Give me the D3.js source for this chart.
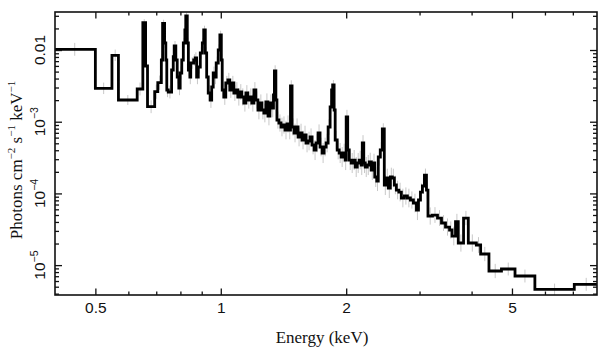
<!DOCTYPE html>
<html><head><meta charset="utf-8">
<script src="https://cdn.jsdelivr.net/npm/d3@7"></script>
<style>body{margin:0;background:#fff}svg{display:block}</style>
</head><body><svg id="c" width="609" height="357"></svg>
<script>
// Bin edges (keV), 174 edges -> 173 bins
const edges = [
0.398,0.500,0.548,0.568,0.630,0.650,0.660,0.667,0.694,0.706,
0.720,0.725,0.733,0.738,0.742,0.748,0.762,0.769,0.773,0.780,
0.786,0.793,0.799,0.806,0.813,0.820,0.824,0.831,0.836,0.843,
0.847,0.861,0.868,0.875,0.883,0.893,0.903,0.910,0.918,0.925,
0.933,0.943,0.951,0.959,0.967,0.975,0.986,0.995,1.003,1.008,
1.017,1.028,1.040,1.051,1.063,1.075,1.087,1.099,1.111,1.123,
1.136,1.149,1.161,1.174,1.187,1.201,1.214,1.228,1.241,1.255,
1.269,1.283,1.298,1.312,1.327,1.338,1.345,1.356,1.364,1.379,
1.395,1.410,1.426,1.442,1.458,1.470,1.483,1.499,1.516,1.533,
1.550,1.567,1.584,1.602,1.620,1.638,1.656,1.675,1.693,1.712,
1.731,1.751,1.770,1.790,1.810,1.830,1.845,1.856,1.871,1.882,
1.903,1.924,1.945,1.967,1.989,2.000,2.017,2.034,2.056,2.079,
2.102,2.126,2.149,2.173,2.186,2.204,2.222,2.247,2.272,2.297,
2.323,2.342,2.368,2.388,2.415,2.442,2.469,2.497,2.524,2.553,
2.581,2.610,2.639,2.676,2.713,2.759,2.805,2.852,2.900,2.949,
2.982,3.015,3.048,3.082,3.117,3.143,3.222,3.313,3.387,3.463,
3.541,3.590,3.660,3.716,3.826,3.928,4.106,4.205,4.403,4.718,
5.085,5.675,7.056,8.05
];
// Flux (photons cm^-2 s^-1 keV^-1), one per bin
const flux = [
0.01023,0.002922,0.008435,0.002008,0.002858,0.02403,0.005983,0.001619,0.002620,0.003499,
0.007255,0.02357,0.01252,0.007255,0.002768,0.002596,0.005261,0.008063,0.01137,0.007255,
0.004201,0.002951,0.004777,0.007255,0.01252,0.01901,0.02980,0.01252,0.005261,0.004201,
0.006589,0.007255,0.007733,0.004201,0.005793,0.009082,0.01252,0.01901,0.009082,0.004201,
0.002513,0.002008,0.003048,0.004777,0.004201,0.006589,0.0100,0.01619,0.007255,0.002768,
0.002211,0.003465,0.003816,0.002768,0.003465,0.002513,0.002768,0.002211,0.002596,0.002211,
0.001824,0.002513,0.002008,0.002211,0.001824,0.002768,0.002008,0.001456,0.001824,0.001456,
0.001322,0.001883,0.001201,0.001824,0.001553,0.002358,0.005094,0.002008,0.001056,0.0009591,
0.0008435,0.0008995,0.0007661,0.0009288,0.0007661,0.003148,0.0008435,0.0006958,0.0008435,0.0006118,
0.0006958,0.0005557,0.0006524,0.0005046,0.0005381,0.0006118,0.0004732,0.0004029,0.0005046,0.0006958,
0.0004437,0.0003660,0.0004437,0.0005046,0.0008435,0.001603,0.002768,0.003250,0.001456,0.0005557,
0.0004029,0.0003660,0.0003218,0.0003660,0.0002922,0.001163,0.0004029,0.0002922,0.0002654,0.0002922,
0.0002334,0.0002654,0.0002922,0.0002489,0.0005046,0.0002654,0.0002334,0.0002489,0.0002741,0.0002120,
0.0002654,0.0001694,0.0001489,0.0003218,0.0004029,0.0007912,0.0001310,0.0001640,0.0001190,0.0001694,
0.0001640,0.0001310,0.0001115,0.0001045,0.00008627,0.00009199,0.00008627,0.00008091,0.00007347,0.00005869,
0.00008091,0.0001045,0.0001268,0.0001805,0.0001115,0.00004840,0.00004995,0.00004537,0.00003865,0.00003398,
0.00003087,0.00002545,0.00004030,0.00002033,0.00004537,0.00002033,0.00001907,0.00001429,0.000008277,0.000008825,
0.000007046,0.000004597,0.000005400
];
// Error bar half-lengths (dex), one per bin
const errDex = [
0.09,0.08,0.08,0.07,0.09,0.05,0.08,0.09,0.10,0.10,
0.08,0.05,0.07,0.08,0.10,0.09,0.09,0.08,0.07,0.08,
0.09,0.10,0.09,0.08,0.07,0.06,0.05,0.07,0.09,0.10,
0.08,0.08,0.08,0.10,0.09,0.08,0.07,0.06,0.08,0.10,
0.11,0.11,0.10,0.09,0.10,0.09,0.08,0.06,0.09,0.11,
0.11,0.10,0.10,0.11,0.10,0.11,0.11,0.12,0.11,0.12,
0.12,0.11,0.12,0.12,0.12,0.11,0.12,0.13,0.12,0.13,
0.13,0.12,0.13,0.12,0.13,0.11,0.08,0.11,0.12,0.12,
0.13,0.12,0.13,0.12,0.13,0.08,0.12,0.13,0.12,0.13,
0.13,0.13,0.13,0.13,0.13,0.12,0.13,0.14,0.13,0.12,
0.13,0.14,0.13,0.13,0.11,0.09,0.08,0.07,0.10,0.13,
0.13,0.14,0.14,0.13,0.14,0.10,0.13,0.14,0.14,0.14,
0.14,0.14,0.13,0.14,0.11,0.14,0.14,0.14,0.13,0.14,
0.13,0.14,0.14,0.12,0.11,0.08,0.14,0.13,0.14,0.13,
0.13,0.13,0.13,0.13,0.13,0.12,0.13,0.12,0.13,0.14,
0.13,0.12,0.11,0.09,0.12,0.12,0.11,0.11,0.11,0.12,
0.12,0.13,0.11,0.12,0.10,0.12,0.11,0.10,0.10,0.09,
0.09,0.08,0.09
];
const xTickValues = [0.5, 1, 2, 5];
const xTickLabels = ["0.5", "1", "2", "5"];
const xMinorTicks = [0.6, 0.7, 0.8, 0.9, 3, 4, 6, 7];
const yTickValues = [1e-2, 1e-3, 1e-4, 1e-5];
const yTickLabels = [["0.01", ""], ["10", "\u22123"], ["10", "\u22124"], ["10", "\u22125"]];
const xTitle = "Energy (keV)";

const svg = d3.select("#c");
const L = 55, R = 597, T = 12, B = 295;
const x = d3.scaleLog().domain([0.4, 8]).range([L, R]);
const y = d3.scaleLog().domain([3.83e-6, 0.0339]).range([B, T]);

const yMinor = [];
for (let e = -6; e <= -2; e++) for (let k = 2; k <= 9; k++) {
  const v = k * Math.pow(10, e);
  if (v > y.domain()[0] && v < y.domain()[1]) yMinor.push(v);
}

svg.append("defs").append("clipPath").attr("id", "clip")
  .append("rect").attr("x", L).attr("y", T).attr("width", R - L).attr("height", B - T);

const plot = svg.append("g").attr("clip-path", "url(#clip)");

// error bars
const bins = flux.map((v, i) => ({lo: edges[i], hi: edges[i + 1], v, e: errDex[i]}));
plot.append("g").selectAll("line").data(bins).join("line")
  .attr("x1", d => x(Math.sqrt(d.lo * d.hi))).attr("x2", d => x(Math.sqrt(d.lo * d.hi)))
  .attr("y1", d => y(d.v * Math.pow(10, d.e))).attr("y2", d => y(d.v / Math.pow(10, d.e)))
  .attr("stroke", "#c8c8c8").attr("stroke-width", 1);

// step line
const pts = bins.map(d => [d.lo, d.v]);
pts.push([edges[edges.length - 1], flux[flux.length - 1]]);
plot.append("path").datum(pts)
  .attr("d", d3.line().x(d => x(d[0])).y(d => y(d[1])).curve(d3.curveStepAfter))
  .attr("fill", "none").attr("stroke", "#000").attr("stroke-width", 2.8)
  .attr("stroke-linejoin", "miter");

// axes
const sans = "'Liberation Sans', Arial, Helvetica, sans-serif";
const serif = "'Liberation Serif', 'Times New Roman', Times, serif";

function styleAxis(g) {
  g.select(".domain").remove();
  g.selectAll(".tick line").attr("stroke", "#111").attr("stroke-width", 1.3);
}
svg.append("g").attr("transform", `translate(0,${B})`)
  .call(d3.axisBottom(x).tickValues(xTickValues).tickSize(-6.5).tickPadding(7)
    .tickFormat((d, i) => xTickLabels[i]))
  .call(styleAxis)
  .call(g => g.selectAll("text").attr("font-family", sans).attr("font-size", 15.5).attr("fill", "#111"));
svg.append("g").attr("transform", `translate(0,${B})`)
  .call(d3.axisBottom(x).tickValues(xMinorTicks).tickSize(-3.5).tickFormat(""))
  .call(styleAxis);
svg.append("g").attr("transform", `translate(0,${T})`)
  .call(d3.axisTop(x).tickValues(xTickValues).tickSize(-6.5).tickFormat(""))
  .call(styleAxis);
svg.append("g").attr("transform", `translate(0,${T})`)
  .call(d3.axisTop(x).tickValues(xMinorTicks).tickSize(-3.5).tickFormat(""))
  .call(styleAxis);
svg.append("g").attr("transform", `translate(${L},0)`)
  .call(d3.axisLeft(y).tickValues(yTickValues).tickSize(-7).tickFormat(""))
  .call(styleAxis);
svg.append("g").attr("transform", `translate(${L},0)`)
  .call(d3.axisLeft(y).tickValues(yMinor).tickSize(-4).tickFormat(""))
  .call(styleAxis);
svg.append("g").attr("transform", `translate(${R},0)`)
  .call(d3.axisRight(y).tickValues(yTickValues).tickSize(-7).tickFormat(""))
  .call(styleAxis);
svg.append("g").attr("transform", `translate(${R},0)`)
  .call(d3.axisRight(y).tickValues(yMinor).tickSize(-4).tickFormat(""))
  .call(styleAxis);

// frame
svg.append("rect").attr("x", L).attr("y", T).attr("width", R - L).attr("height", B - T)
  .attr("fill", "none").attr("stroke", "#111").attr("stroke-width", 1.6);

// y tick labels (rotated)
yTickValues.forEach((v, i) => {
  const t = svg.append("text")
    .attr("transform", `translate(45,${y(v)}) rotate(-90)`)
    .attr("text-anchor", "middle").attr("font-family", sans).attr("font-size", 15.5).attr("fill", "#111");
  t.append("tspan").text(yTickLabels[i][0]);
  if (yTickLabels[i][1]) t.append("tspan").attr("dy", -7).attr("font-size", 10.5).text(yTickLabels[i][1]);
});

// axis titles
svg.append("text").attr("x", 322).attr("y", 343).attr("text-anchor", "middle")
  .attr("font-family", serif).attr("font-size", 17).attr("fill", "#111").text(xTitle);

const yt = svg.append("text").attr("transform", "translate(22,160) rotate(-90)")
  .attr("text-anchor", "middle").attr("font-family", serif).attr("font-size", 17).attr("fill", "#111");
yt.append("tspan").text("Photons cm");
yt.append("tspan").attr("dy", -7).attr("font-size", 11).text("\u22122");
yt.append("tspan").attr("dy", 7).text(" s");
yt.append("tspan").attr("dy", -7).attr("font-size", 11).text("\u22121");
yt.append("tspan").attr("dy", 7).text(" keV");
yt.append("tspan").attr("dy", -7).attr("font-size", 11).text("\u22121");
</script>
</body></html>
